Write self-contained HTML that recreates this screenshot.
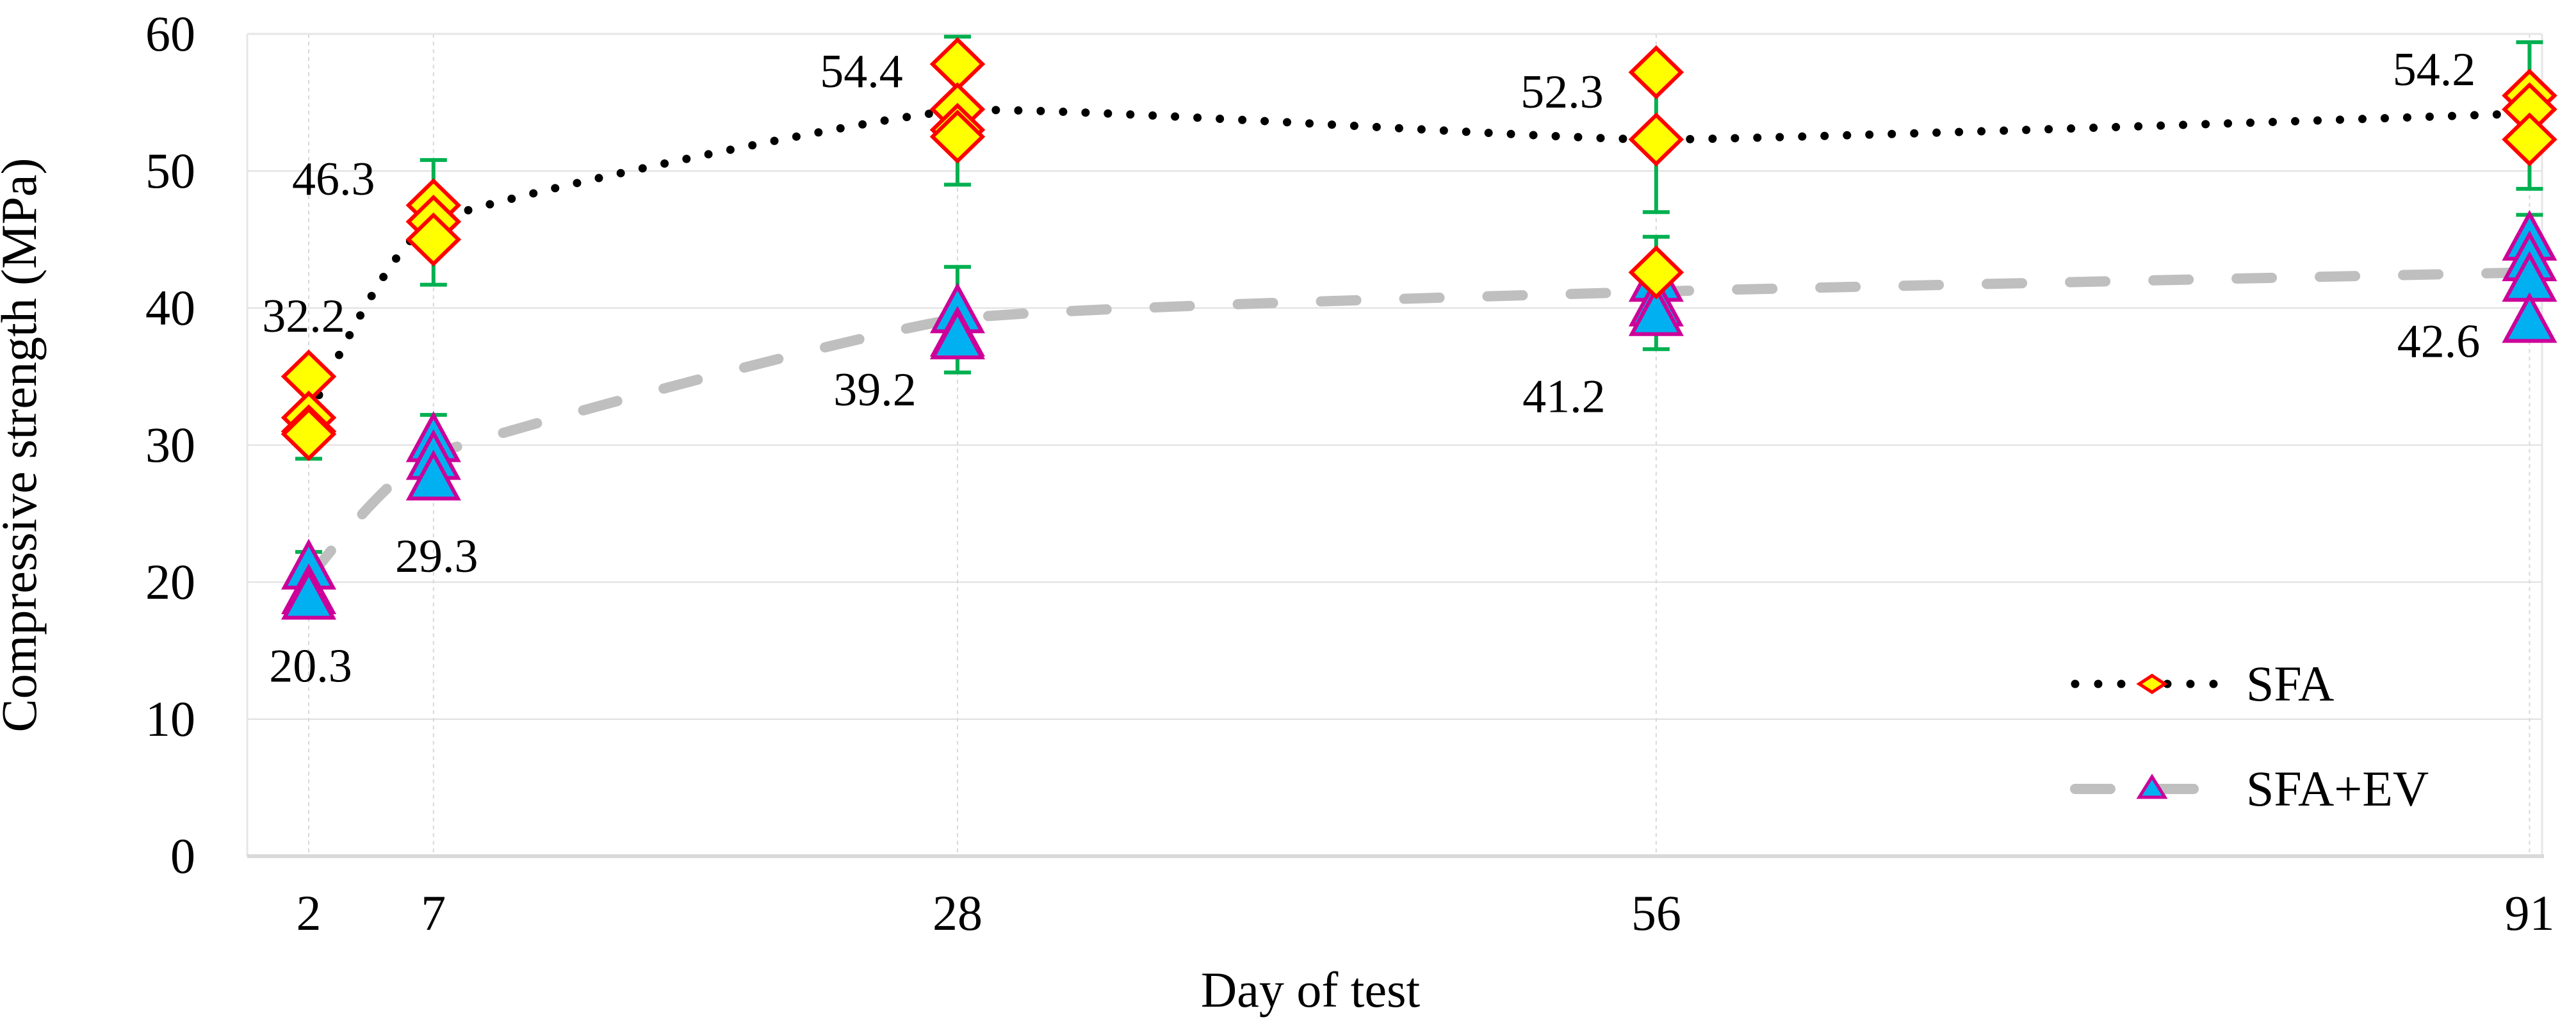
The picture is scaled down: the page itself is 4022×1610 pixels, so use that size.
<!DOCTYPE html>
<html><head><meta charset="utf-8"><style>
html,body{margin:0;padding:0;background:#fff;}
svg{display:block;font-family:"Liberation Serif",serif;}
</style></head><body>
<svg id="chart" width="4022" height="1610" viewBox="0 0 4022 1610">
<g id="grid"></g>
<g id="axes"></g>
<g id="series"></g>
<g id="labels"></g>
<text x="56" y="695" font-size="78" text-anchor="middle" transform="rotate(-90 56 695)">Compressive strength (MPa)</text>
<text x="2046" y="1572" font-size="78" text-anchor="middle">Day of test</text>
<g>
  <g>
    <line x1="3240" y1="1068" x2="3462" y2="1068" stroke="#000" stroke-width="13" stroke-linecap="round" stroke-dasharray="0 36"/>
    <polygon points="3360,1055 3380,1068 3360,1081 3340,1068" fill="#ffff00" stroke="#ff0000" stroke-width="5"/>
    <text x="3507" y="1094" font-size="78">SFA</text>
  </g>
  <g>
    <line x1="3240" y1="1232" x2="3426" y2="1232" stroke="#bfbfbf" stroke-width="16" stroke-linecap="round" stroke-dasharray="55 75"/>
    <polygon points="3360,1213 3380,1245 3340,1245" fill="#00b0f0" stroke="#cc0099" stroke-width="5"/>
    <text x="3507" y="1258" font-size="78">SFA+EV</text>
  </g>
</g>
</svg>
<script>
const days = [2, 7, 28, 56, 91];
const sfaMean = [32.2, 46.3, 54.4, 52.3, 54.2];
const evMean = [20.3, 29.3, 39.2, 41.2, 42.6];
const sfaPoints = [[35, 32, 31, 30.8], [47.5, 46.3, 45], [57.8, 54.5, 53, 52.5], [57.2, 52.3, 42.6], [55.5, 54.5, 52.3]];
const evPoints = [[21, 19.2, 18.8], [30.3, 29, 27.5], [39.7, 38, 37.8], [42, 40.2, 39.5], [45, 43.5, 42, 39]];
const sfaErrLow = [29, 41.7, 49, 47, 48.7];
const sfaErrHigh = [35, 50.8, 59.8, 57, 59.4];
const evErrLow = [18.4, 27, 35.3, 37, 38];
const evErrHigh = [22.2, 32.2, 43, 45.2, 46.8];
const yTicks = [0, 10, 20, 30, 40, 50, 60];
const sfaLabelText = ["32.2", "46.3", "54.4", "52.3", "54.2"];
const evLabelText = ["20.3", "29.3", "39.2", "41.2", "42.6"];

const NS = "http://www.w3.org/2000/svg";
const X0 = 482, XPER = 38.96, Y0 = 1337, YPER = 21.4;
function xs(d){ return X0 + (d - 2) * XPER; }
function ys(v){ return Y0 - v * YPER; }
function mk(tag, attrs, parent){
  const e = document.createElementNS(NS, tag);
  for (const k in attrs) e.setAttribute(k, attrs[k]);
  parent.appendChild(e);
  return e;
}
const grid = document.getElementById('grid');
const axes = document.getElementById('axes');
const series = document.getElementById('series');
const labels = document.getElementById('labels');

yTicks.forEach(t => {
  if (t > 0) {
    const g = mk('line', {x1: 386, x2: 3969, y1: ys(t), y2: ys(t), stroke: '#e0e0e0', 'stroke-width': 2}, grid);
    
    
  }
  const tl = mk('text', {x: 305, y: ys(t) + 26, 'font-size': 78, 'text-anchor': 'end'}, axes);
  tl.textContent = t;
  
  
});
days.forEach(d => {
  const vg = mk('line', {x1: xs(d), x2: xs(d), y1: 53, y2: Y0, stroke: '#d9d9d9', 'stroke-width': 2, 'stroke-dasharray': '6 6'}, grid);
  
  
  const tl = mk('text', {x: xs(d), y: 1452, 'font-size': 78, 'text-anchor': 'middle'}, axes);
  tl.textContent = d;
  
  
});
const frame = mk('path', {d: 'M386 53 V1337 M3969 53 V1337 M386 53 H3969', stroke: '#e6e6e6', 'stroke-width': 3, fill: 'none'}, axes);


const xaxis = mk('line', {x1: 386, x2: 3972, y1: Y0, y2: Y0, stroke: '#d9d9d9', 'stroke-width': 6}, axes);



function smooth(vals){
  const p = vals.map((v, i) => [xs(days[i]), ys(v)]);
  let d = 'M' + p[0][0] + ' ' + p[0][1];
  for (let i = 0; i < p.length - 1; i++) {
    const p0 = p[Math.max(0, i - 1)], p1 = p[i], p2 = p[i + 1], p3 = p[Math.min(p.length - 1, i + 2)];
    const t = 1 / 14;
    const c1 = [p1[0] + (p2[0] - p0[0]) * t, p1[1] + (p2[1] - p0[1]) * t];
    const c2 = [p2[0] - (p3[0] - p1[0]) * t, p2[1] - (p3[1] - p1[1]) * t];
    d += ' C' + c1[0] + ' ' + c1[1] + ' ' + c2[0] + ' ' + c2[1] + ' ' + p2[0] + ' ' + p2[1];
  }
  return d;
}
function errBar(d, lo, hi, name){
  const g = mk('g', {stroke: '#00b050', 'stroke-width': 6}, series);
  
  
  const x = xs(d);
  mk('line', {x1: x, x2: x, y1: ys(lo), y2: ys(hi)}, g);
  mk('line', {x1: x - 21, x2: x + 21, y1: ys(lo), y2: ys(lo)}, g);
  mk('line', {x1: x - 21, x2: x + 21, y1: ys(hi), y2: ys(hi)}, g);
}
days.forEach((d, i) => { errBar(d, evErrLow[i], evErrHigh[i], 'error-bar-sfa-ev'); errBar(d, sfaErrLow[i], sfaErrHigh[i], 'error-bar-sfa'); });

const evLine = mk('path', {d: smooth(evMean), fill: 'none', stroke: '#bfbfbf', 'stroke-width': 16, 'stroke-linecap': 'round', 'stroke-dasharray': '55 75'}, series);


const sfaLine = mk('path', {d: smooth(sfaMean), fill: 'none', stroke: '#000', 'stroke-width': 13, 'stroke-linecap': 'round', 'stroke-dasharray': '0 35'}, series);



days.forEach((d, i) => {
  const x = xs(d);
  evPoints[i].forEach(v => {
    const y = ys(v);
    const t = mk('polygon', {points: `${x},${y - 40} ${x + 38},${y + 30} ${x - 38},${y + 30}`, fill: '#00b0f0', stroke: '#cc0099', 'stroke-width': 6}, series);
    
    
  });
});
days.forEach((d, i) => {
  const x = xs(d);
  sfaPoints[i].forEach(v => {
    const y = ys(v);
    const p = mk('polygon', {points: `${x},${y - 38} ${x + 39},${y} ${x},${y + 38} ${x - 39},${y}`, fill: '#ffff00', stroke: '#ff0000', 'stroke-width': 6}, series);
    
    
  });
});

const sfaLabelDx = [-8, -156, -150, -147, -149];
const sfaLabelDy = [-130, -42, -37, -50, -44];
const evLabelDx = [3, 5, -129, -144, -142];
const evLabelDy = [162, 183, 135, 188, 132];
days.forEach((d, i) => {
  const a = mk('text', {x: xs(d) + sfaLabelDx[i], y: ys(sfaMean[i]) + sfaLabelDy[i], 'font-size': 74, 'text-anchor': 'middle'}, labels);
  a.textContent = sfaLabelText[i];
  
  
  const b = mk('text', {x: xs(d) + evLabelDx[i], y: ys(evMean[i]) + evLabelDy[i], 'font-size': 74, 'text-anchor': 'middle'}, labels);
  b.textContent = evLabelText[i];
  
  
});
</script>
</body></html>
